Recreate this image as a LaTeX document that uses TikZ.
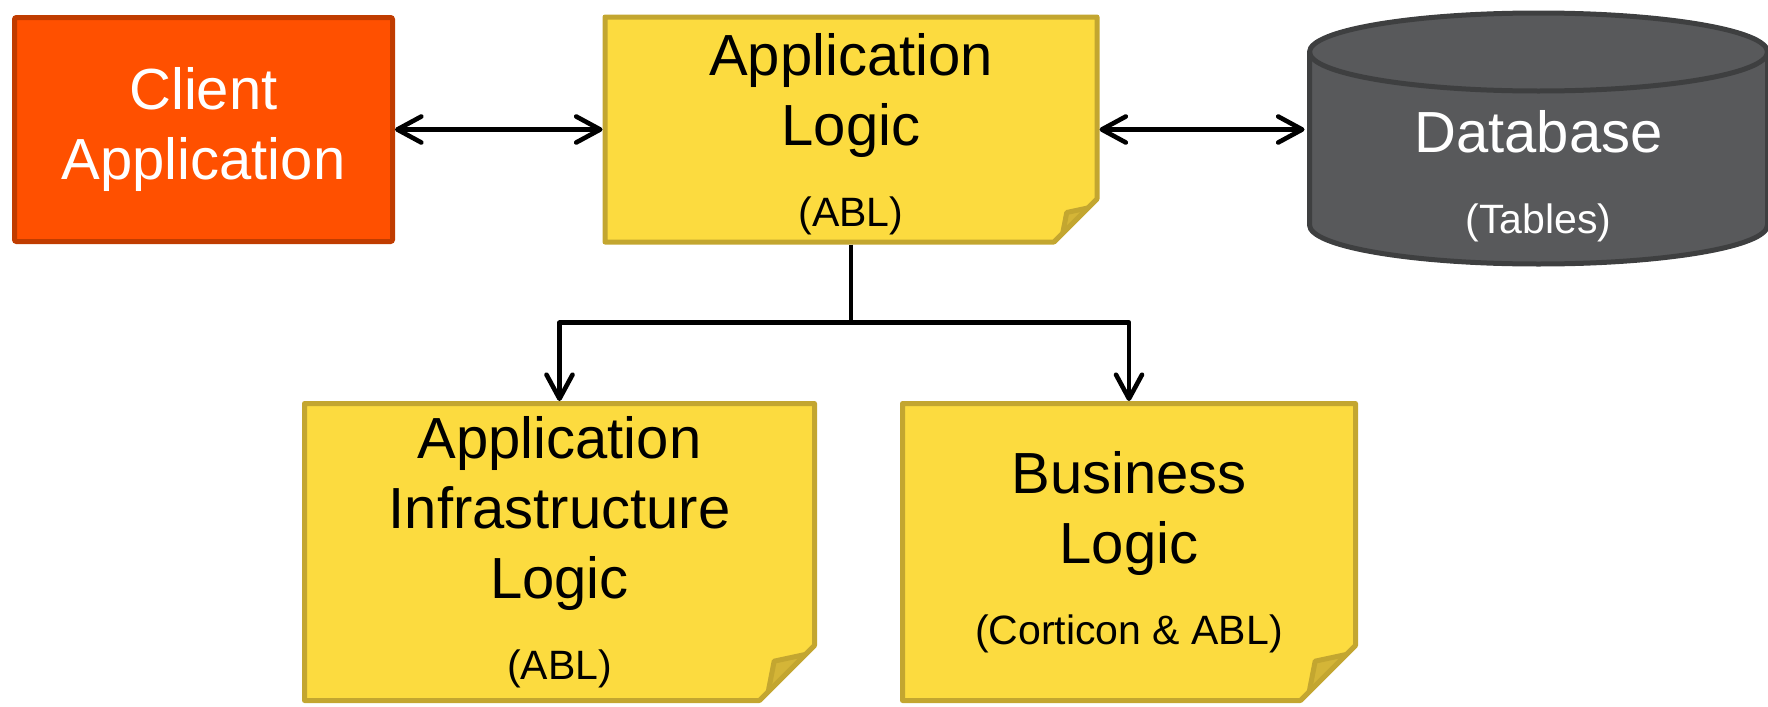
\documentclass[tikz,border=0pt]{standalone}
\usepackage{fontspec}
\setmainfont{Liberation Sans}
\usetikzlibrary{shapes.misc,arrows.meta,calc}
\definecolor{clientfill}{RGB}{255,80,0}
\definecolor{clientdraw}{RGB}{192,60,0}
\definecolor{notefill}{RGB}{252,219,63}
\definecolor{notedraw}{RGB}{195,166,48}
\definecolor{foldfill}{RGB}{212,181,55}
\definecolor{dbfill}{RGB}{88,89,91}
\definecolor{dbdraw}{RGB}{62,63,64}
\newcommand{\bigfont}{\fontsize{29}{35}\selectfont}
\newcommand{\subline}[1]{{\fontsize{20.5}{24}\selectfont #1}}
\newcommand{\pushdown}[1]{\rule{0pt}{#1}}
\tikzstyle{line} = [draw, line width=2.3pt, line join=round, -{Straight Barb[length=12pt,width=13pt,round]}]
\tikzstyle{biline} = [line, {Straight Barb[length=12pt,width=13pt,round]}-{Straight Barb[length=12pt,width=13pt,round]}]
\tikzstyle{block} = [draw=clientdraw, fill=clientfill, line width=2.5pt, rounded corners=1pt, rectangle, align=center, text=white, font=\bigfont, minimum width=189pt, minimum height=112pt]
\tikzstyle{notebox} = [draw=notedraw, fill=notefill, line width=2.5pt, line join=round, chamfered rectangle, chamfered rectangle corners=south east, chamfered rectangle xsep=#1, inner ysep=0pt, align=center, font=\bigfont,
    path picture={
        \coordinate (corner) at (path picture bounding box.south east);
        \filldraw[fill=foldfill, draw=notedraw, line width=2.5pt, line join=round]
            ($(corner)+(0pt,#1)$) -- ($(corner)+(-0.84*#1,0.82*#1)$) -- ($(corner)+(-#1,0pt)$) -- cycle;
    }]
\tikzstyle{store} = [rectangle, inner sep=0pt, outer sep=2.5pt, align=center, text=white, font=\bigfont, minimum width=229pt]
\tikzstyle{storeside} = [fill=dbfill, draw=dbdraw, line width=2.5pt, line join=round]

\begin{document}
\begin{tikzpicture}[x=0.5pt, y=-0.5pt]
    \useasboundingbox (0,0) rectangle (1768,707);
    % database cylinder
    \filldraw[storeside] (1309.5,52) -- (1309.5,225) arc[start angle=180, end angle=0, x radius=229, y radius=39]
        -- (1767.5,52) arc[start angle=0, end angle=-180, x radius=229, y radius=39] -- cycle;
    \draw[storeside, fill=none] (1309.5,52) arc[start angle=180, end angle=0, x radius=229, y radius=39];
    \node[block] (client) at (203.5,129.5) {Client\\Application};
    \node[notebox=18pt, right of=client, node distance=323.75pt, minimum width=246pt, minimum height=112.5pt, inner ysep=-4pt] (app) {\pushdown{26pt}Application\\Logic\\[5.5pt]\subline{(ABL)}};
    \node[store] (db) at (1538.5,176) {Database\\[5.5pt]\subline{(Tables)}};
    \node[notebox=24pt, minimum width=255pt, minimum height=148.5pt] (infra) at (559.5,552) {Application\\Infrastructure\\Logic\\[5.5pt]\subline{(ABL)}};
    \node[notebox=24pt, right of=infra, node distance=284.75pt, minimum width=226.5pt, minimum height=148.5pt] (biz) {Business\\Logic\\[5.5pt]\subline{(Corticon \& ABL)}};
    \path[biline] (client.east) -- (app.west);
    \path[biline] (app.east) -- (app.east -| db.west);
    \coordinate (fork) at ($(app.south)!0.5!(app.south |- infra.north)$);
    \path[line] (app.south) -- (fork) -| (infra.north);
    \path[line] (fork) -| (biz.north);
\end{tikzpicture}
\end{document}
